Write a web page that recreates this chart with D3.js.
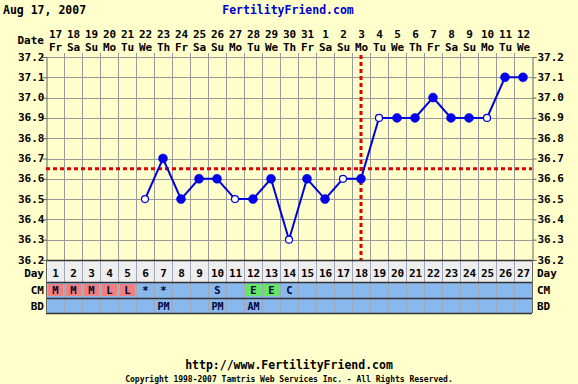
<!DOCTYPE html>
<html><head><meta charset="utf-8">
<script src="https://cdn.jsdelivr.net/npm/d3@7"></script>
<style>
html,body{margin:0;padding:0;background:#ffffcc;}
svg{display:block;}
text{font-family:"DejaVu Sans Mono",monospace;font-weight:bold;}
</style></head>
<body>
<script>
const cycleDays = d3.range(1, 28);
const dates = ["17","18","19","20","21","22","23","24","25","26","27","28","29","30","31","1","2","3","4","5","6","7","8","9","10","11","12"];
const weekdays = ["Fr","Sa","Su","Mo","Tu","We","Th","Fr","Sa","Su","Mo","Tu","We","Th","Fr","Sa","Su","Mo","Tu","We","Th","Fr","Sa","Su","Mo","Tu","We"];
const tempDays = [6,7,8,9,10,11,12,13,14,15,16,17,18,19,20,21,22,23,24,25,26,27];
const temps = [36.5,36.7,36.5,36.6,36.6,36.5,36.5,36.6,36.3,36.6,36.5,36.6,36.6,36.9,36.9,36.9,37.0,36.9,36.9,36.9,37.1,37.1];
const openMarks = [1,0,0,0,0,1,0,0,1,0,0,1,0,1,0,0,0,0,0,1,0,0];
const yTicks = [37.2,37.1,37.0,36.9,36.8,36.7,36.6,36.5,36.4,36.3,36.2];
const coverline = 36.65;
const ovulationDay = 18;
const cmDays = [1,2,3,4,5,6,7,10,12,13,14];
const cmCodes = ["M","M","M","L","L","*","*","S","E","E","C"];
const cmKinds = ["flow","flow","flow","flow","flow","none","none","none","egg","egg","none"];
const bdDays = [7,10,12];
const bdCodes = ["PM","PM","AM"];

const W = 578, H = 384;
const FS = 11;
const svg = d3.select("body").append("svg").attr("width", W).attr("height", H);
svg.append("rect").attr("width", W).attr("height", H).attr("fill", "#ffffcc");

const L = 46, R = 532, T = 57, B = 260;
const x = d3.scaleBand().domain(cycleDays).range([L, R]);
const y = d3.scaleLinear().domain([36.2, 37.2]).range([B, T]);
const cx = d => x(d) + x.bandwidth() / 2;

// header
svg.append("text").attr("x", 3).attr("y", 14).attr("font-size", 11.5).attr("fill", "#000").text("Aug 17, 2007");
svg.append("text").attr("x", 288).attr("y", 14).attr("text-anchor", "middle").attr("font-size", 11.5).attr("fill", "#0000cc").text("FertilityFriend.com");

// date header
svg.append("text").attr("x", 44).attr("y", 44).attr("text-anchor", "end").attr("font-size", FS).text("Date");
svg.selectAll(".dnum").data(cycleDays).enter().append("text")
  .attr("x", d => cx(d) + 0.5).attr("y", 38).attr("text-anchor", "middle").attr("font-size", FS)
  .text((d, i) => dates[i]);
svg.selectAll(".wday").data(cycleDays).enter().append("text")
  .attr("x", d => cx(d) + 0.5).attr("y", 51).attr("text-anchor", "middle").attr("font-size", FS)
  .text((d, i) => weekdays[i]);

// grid
const g = svg.append("g");
g.selectAll(".hg").data(yTicks).enter().append("line")
  .attr("x1", L).attr("x2", R).attr("y1", d => Math.round(y(d)) + 0.5).attr("y2", d => Math.round(y(d)) + 0.5)
  .attr("stroke", "#999").attr("stroke-width", 1);
g.selectAll(".vg").data(cycleDays.slice(1)).enter().append("line")
  .attr("x1", d => x(d) + 0.5).attr("x2", d => x(d) + 0.5).attr("y1", T - 4).attr("y2", B)
  .attr("stroke", "#999").attr("stroke-width", 1);

// axes
const yl = d3.axisLeft(y).tickValues(yTicks).tickSize(4).tickFormat(d3.format(".1f"));
const yr = d3.axisRight(y).tickValues(yTicks).tickSize(4).tickFormat(d3.format(".1f"));
const ga = svg.append("g").attr("transform", `translate(${L + 0.5},0)`).call(yl);
const gb = svg.append("g").attr("transform", `translate(${R + 0.5},0)`).call(yr);
[ga, gb].forEach(a => {
  a.select(".domain").attr("stroke", "#666");
  a.selectAll(".tick line").attr("stroke", "#666");
  a.selectAll("text").attr("font-size", FS).attr("font-family", "DejaVu Sans Mono").attr("font-weight", "bold").attr("fill", "#000");
});
ga.selectAll("text").attr("x", -2).attr("dy", "0.28em");
gb.selectAll("text").attr("x", 5).attr("dy", "0.28em");

// coverline
svg.append("line").attr("x1", L).attr("x2", R).attr("y1", y(coverline)).attr("y2", y(coverline))
  .attr("stroke", "#dd0000").attr("stroke-width", 3).attr("stroke-dasharray", "4,3");
svg.append("line").attr("x1", cx(ovulationDay)).attr("x2", cx(ovulationDay)).attr("y1", T - 2).attr("y2", B)
  .attr("stroke", "#dd0000").attr("stroke-width", 3).attr("stroke-dasharray", "4,3");

// temperature line
const pts = tempDays.map((d, i) => ({d, t: temps[i], open: openMarks[i]}));
svg.append("path").datum(pts)
  .attr("d", d3.line().x(p => cx(p.d)).y(p => y(p.t)))
  .attr("fill", "none").attr("stroke", "#0000dd").attr("stroke-width", 2);
svg.selectAll(".pt").data(pts).enter().append("circle")
  .attr("cx", p => cx(p.d)).attr("cy", p => y(p.t))
  .attr("r", p => p.open ? 3.5 : 4.5)
  .attr("fill", p => p.open ? "#ffffff" : "#0000ee")
  .attr("stroke", "#0000dd").attr("stroke-width", p => p.open ? 1.2 : 0.5);

// bottom rows
const rowDay = [260, 282], rowCM = [282, 298], rowBD = [298, 313];
svg.append("rect").attr("x", L).attr("y", rowDay[0]).attr("width", R - L).attr("height", rowDay[1] - rowDay[0]).attr("fill", "#eeeeee");
svg.append("rect").attr("x", L).attr("y", rowCM[0]).attr("width", R - L).attr("height", rowBD[1] - rowCM[0]).attr("fill", "#88b8ee");
svg.selectAll(".cmcell").data(cmDays).enter().append("rect")
  .attr("x", d => x(d) + 2).attr("y", rowCM[0] + 2).attr("width", x.bandwidth() - 3).attr("height", rowCM[1] - rowCM[0] - 4)
  .attr("fill", (d, i) => cmKinds[i] === "flow" ? "#f08080" : cmKinds[i] === "egg" ? "#66e666" : "none");
svg.selectAll(".bvg").data(cycleDays.slice(1)).enter().append("line")
  .attr("x1", d => x(d) + 0.5).attr("x2", d => x(d) + 0.5).attr("y1", rowDay[0]).attr("y2", rowBD[1])
  .attr("stroke", "#a0a8b8").attr("stroke-width", 1);
[rowDay[0], rowCM[0], rowBD[0], rowBD[1]].forEach(v => {
  svg.append("line").attr("x1", L).attr("x2", R).attr("y1", v + 0.5).attr("y2", v + 0.5).attr("stroke", "#333").attr("stroke-width", 1.5);
});
svg.append("line").attr("x1", L + 0.5).attr("x2", L + 0.5).attr("y1", rowDay[0]).attr("y2", rowBD[1]).attr("stroke", "#666");
svg.append("line").attr("x1", R + 0.5).attr("x2", R + 0.5).attr("y1", rowDay[0]).attr("y2", rowBD[1]).attr("stroke", "#666");

svg.selectAll(".dayn").data(cycleDays).enter().append("text")
  .attr("x", d => cx(d) + 0.5).attr("y", 277).attr("text-anchor", "middle").attr("font-size", FS).text(d => d);
svg.selectAll(".cmt").data(cmDays).enter().append("text")
  .attr("x", d => cx(d) + 0.5).attr("y", 294).attr("text-anchor", "middle").attr("font-size", 10.5).attr("fill", "#000033")
  .text((d, i) => cmCodes[i]);
svg.selectAll(".bdt").data(bdDays).enter().append("text")
  .attr("x", d => cx(d) + 0.5).attr("y", 310).attr("text-anchor", "middle").attr("font-size", 10).attr("fill", "#000033")
  .text((d, i) => bdCodes[i]);

[["Day", 277], ["CM", 294], ["BD", 310]].forEach(([t, yy]) => {
  svg.append("text").attr("x", 44).attr("y", yy).attr("text-anchor", "end").attr("font-size", FS).text(t);
  svg.append("text").attr("x", 537).attr("y", yy).attr("text-anchor", "start").attr("font-size", FS).text(t);
});

// footer
svg.append("text").attr("x", 289).attr("y", 369).attr("text-anchor", "middle").attr("font-size", 11.5).text("http://www.FertilityFriend.com");
svg.append("text").attr("x", 289).attr("y", 382).attr("text-anchor", "middle").attr("font-size", 8).attr("font-weight", "normal")
  .text("Copyright 1998-2007 Tamtris Web Services Inc. - All Rights Reserved.");
</script>
</body></html>
